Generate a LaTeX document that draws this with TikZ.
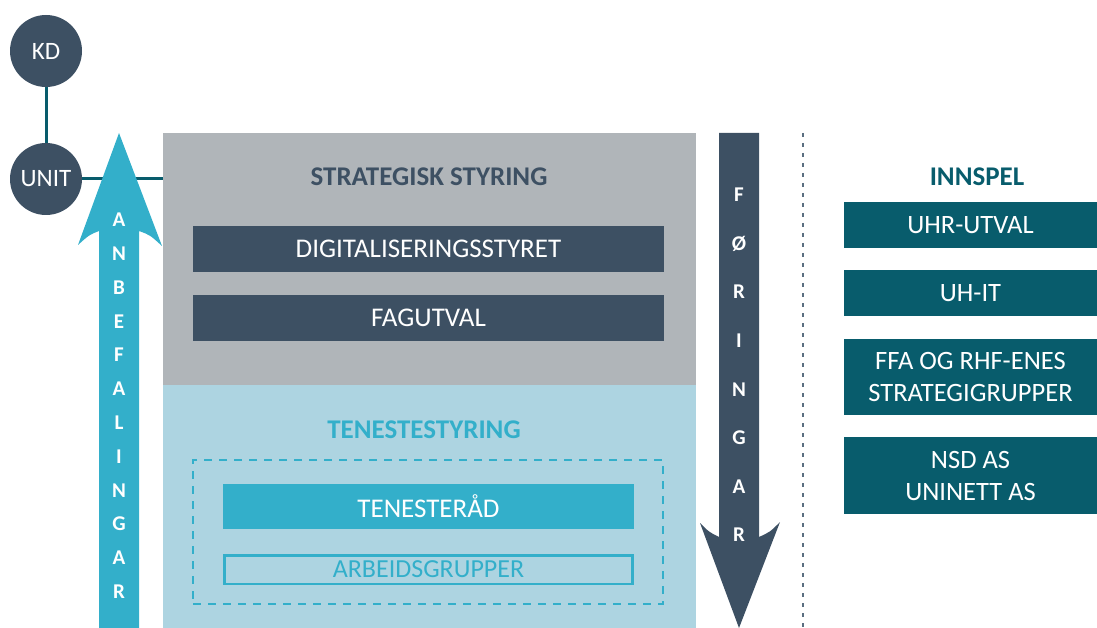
\documentclass[tikz,border=0pt]{standalone}
\usepackage{fontspec}
\setmainfont{Carlito}
\definecolor{slate}{HTML}{3D5063}
\definecolor{cyanbl}{HTML}{33AFCA}
\definecolor{greybox}{HTML}{B0B5B9}
\definecolor{lightbl}{HTML}{ADD4E1}
\definecolor{petrol}{HTML}{085C6C}
\definecolor{sepcol}{HTML}{5A6E80}

\begin{document}
\begin{tikzpicture}[x=1pt, y=-1pt,
    circ/.style={circle, fill=slate, text=white, minimum size=72pt, inner sep=0pt, font=\fontsize{25}{29}\selectfont},
    bar/.style={fill=slate, text=white, minimum width=471pt, minimum height=46pt, inner sep=0pt, font=\fontsize{27}{32}\selectfont},
    inbox/.style={fill=petrol, text=white, minimum width=253pt, inner sep=0pt, align=center, font=\fontsize{26.5}{32}\selectfont},
    title/.style={font=\fontsize{27}{32}\selectfont\bfseries, inner sep=0pt},
    vletter/.style={text=white, font=\fontsize{21}{24}\selectfont\bfseries, text height=13.5pt, text depth=0pt, inner sep=0pt},
    link/.style={petrol, line width=3pt}]
    \useasboundingbox (0,0) rectangle (1097,628);
    % the two layers
    \node[fill=greybox, minimum width=533pt, minimum height=252pt, inner sep=0pt] (strat) at (429.5,259) {};
    \node[fill=lightbl, minimum width=533pt, minimum height=243pt, inner sep=0pt] (tenest) at (429.5,506.5) {};
    \node[title, text=slate] (strattitle) at (429,177) {STRATEGISK STYRING};
    \node[bar] (digi) at (428.5,249) {DIGITALISERINGSSTYRET};
    \node[bar] (fag) at (428.5,318) {FAGUTVAL};
    \node[title, text=cyanbl] (tenesttitle) at (424,430) {TENESTESTYRING};
    \node[draw=cyanbl, line width=2.5pt, dash pattern=on 8pt off 7pt, minimum width=470pt, minimum height=144pt] (grp) at (428,532) {};
    \node[bar, fill=cyanbl, minimum width=411pt, minimum height=45pt] (raad) at (428.5,506.5) {TENESTERÅD};
    \node[draw=cyanbl, line width=2.5pt, fill=lightbl, text=cyanbl, minimum width=408pt, minimum height=28.5pt, inner sep=0pt, font=\fontsize{26}{30}\selectfont] (arb) at (428.5,569.5) {ARBEIDSGRUPPER};
    % KD and UNIT
    \node[circ] (kd) at (46,51) {KD};
    \node[circ] (unit) at (46,179) {UNIT};
    \draw[link] (kd) -- (unit);
    \draw[link] (unit) -- (unit -| strat.west);
    % anbefalingar up, foringar down
    \fill[cyanbl] (99,628) -- (99,231) .. controls (89,235) .. (78,245) -- (119,133) -- (162,246) .. controls (150,235) .. (139,231) -- (139,628) -- cycle;
    \foreach \l [count=\i from 0] in {A,N,B,E,F,A,L,I,N,G,A,R}
        \node[vletter] (anb\i) at (119,{220+33.8*\i}) {\l};
    \fill[slate] (719,133) -- (759,133) -- (759,537) .. controls (770,532) .. (780,522) -- (739,628) -- (700,523) .. controls (709,532) .. (719,537) -- cycle;
    \foreach \l [count=\i from 0] in {F,Ø,R,I,N,G,A,R}
        \node[vletter] (for\i) at (739,{195+48.6*\i}) {\l};
    % innspel
    \coordinate (septop) at (803,133);
    \coordinate (sepbot) at (803,628);
    \draw[sepcol, line width=1.5pt, dash pattern=on 4pt off 6pt] (septop) -- (sepbot);
    \node[title, text=petrol] (innspel) at (977,177) {INNSPEL};
    \node[inbox, minimum height=46pt] (uhr) at (970.5,225) {UHR-UTVAL};
    \node[inbox, minimum height=46pt] (uhit) at (970.5,293) {UH-IT};
    \node[inbox, minimum height=76pt] (ffa) at (970.5,377) {FFA OG RHF-ENES\\STRATEGIGRUPPER};
    \node[inbox, minimum height=77pt] (nsd) at (970.5,475.5) {NSD AS\\UNINETT AS};
\end{tikzpicture}
\end{document}
